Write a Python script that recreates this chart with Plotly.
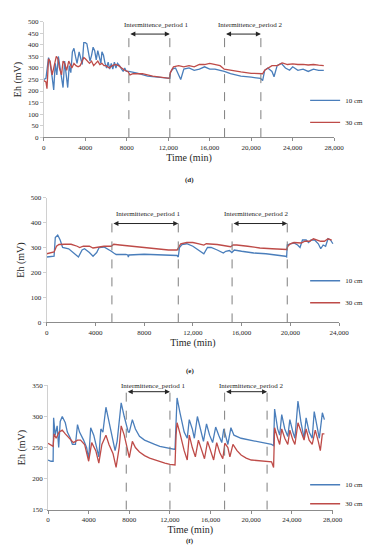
import plotly.graph_objects as go

# ---------------- data ----------------
# panel (d)
d_t10 = [0,200,450,600,800,950,1100,1250,1400,1550,1700,1850,2000,2150,2300,2450,2600,2750,2900,3050,3200,3400,3550,3700,3850,4000,4150,4300,4450,4600,4750,4900,5050,5200,5350,5500,5600,5750,5900,6050,6200,6350,6500,6650,6800,6950,7100,7300,7500,7650,7800,7950,8200,9000,10000,11000,12000,12150,12200,12400,12700,13000,13200,13500,14000,14500,15000,15500,16000,16500,17000,17400,18000,19000,20000,20900,21100,21300,21600,22000,22200,22500,22900,23300,23700,24000,24500,25000,25500,26000,26500,27000]
d_v10 = [250,255,345,320,260,205,320,270,350,300,250,215,330,280,215,310,280,370,385,350,320,370,340,315,410,410,405,370,330,355,390,375,335,375,350,320,370,355,320,300,325,295,320,295,325,300,320,310,295,285,300,285,285,278,265,260,255,255,280,295,300,270,250,295,300,290,295,305,295,295,290,285,275,265,260,255,245,290,300,285,262,310,320,300,290,305,290,295,285,295,290,290]
d_t30 = [0,200,300,450,600,800,1000,1200,1350,1500,1700,1850,2000,2200,2400,2550,2700,2900,3100,3300,3500,3700,3850,4000,4200,4400,4600,4800,5000,5200,5400,5600,5800,6000,6300,6600,6900,7200,7500,7800,8100,8300,8600,9500,10500,11500,12100,12200,12500,13000,13500,14000,14500,15000,15500,16000,16500,17000,17400,18000,19000,20000,20900,21100,21300,21600,22000,22500,23000,23500,24000,24500,25000,25500,26000,26500,27000]
d_v30 = [245,240,210,340,330,270,310,350,340,300,270,330,320,290,330,310,300,320,310,305,310,330,345,340,330,320,330,310,320,330,315,320,310,310,300,310,315,310,300,290,285,270,275,275,265,258,255,280,305,310,305,310,305,315,315,320,315,310,295,290,283,277,275,275,290,300,310,310,322,315,318,315,316,313,315,312,310]
d_periods = [8200, 12150, 17430, 20930]

# panel (e)
e_t10 = [0,500,600,700,900,1100,1300,1800,2300,2600,2900,3100,3500,3800,4100,4300,4700,5000,5300,5500,5700,6500,6650,6700,6750,8000,9000,10000,10700,10800,10900,11100,11500,12000,12500,12900,13200,13500,14000,14500,14700,15000,15200,15400,16000,17000,18000,19000,19600,19700,19750,20000,20300,20600,20800,21000,21300,21500,21700,22000,22300,22500,22700,22900,23100,23300,23500]
e_v10 = [262,262,265,340,350,330,300,295,275,262,290,295,280,265,280,300,302,295,285,278,272,272,270,262,270,273,272,270,268,262,300,312,315,305,290,275,300,300,290,278,285,288,280,290,285,278,275,270,265,262,310,315,318,310,300,330,330,320,330,330,315,295,310,305,335,330,315]
e_t30 = [0,300,600,800,1000,1500,2000,2500,2700,3000,3500,3800,4300,4700,5300,5500,6000,7000,8000,9000,10000,10700,10800,11000,11500,12000,12500,12900,13100,13500,14000,14500,14800,15100,15300,15600,16500,17500,18500,19700,19800,20000,20300,20600,20900,21200,21600,21900,22200,22500,22800,23100,23400]
e_v30 = [275,278,282,305,312,313,313,305,300,305,305,298,302,305,305,313,310,305,300,295,290,290,300,315,320,320,315,310,315,315,312,308,305,303,310,310,305,298,295,292,305,315,320,320,318,325,325,335,330,325,325,335,330]
e_periods = [5350, 10800, 15220, 19750]

# panel (f)
f_t10 = [0,300,500,550,700,900,1050,1200,1400,1700,1900,2200,2400,2700,2900,3100,3500,3800,4000,4200,4500,4800,5000,5200,5400,5700,6000,6300,6600,6800,7200,7500,7700,7900,8000,8300,8600,9000,9500,10000,10500,11000,11500,12000,12500,12600,12700,13000,13400,13700,13900,14200,14400,14700,15000,15300,15600,15900,16200,16500,16800,17100,17300,17500,17700,18000,18300,19000,20000,21000,21500,22000,22200,22300,22600,22800,23000,23300,23600,23800,24100,24300,24600,24900,25200,25400,25700,26000,26200,26500,26700,27000,27200]
f_v10 = [230,228,228,298,270,285,250,292,300,290,275,265,255,255,287,275,262,250,232,282,270,250,235,280,275,315,290,270,245,260,322,300,285,275,275,295,280,268,262,258,255,252,250,248,247,290,330,305,275,265,295,280,265,300,280,260,288,270,258,283,270,258,280,265,255,282,270,265,262,258,257,255,253,312,280,270,303,280,268,295,275,265,325,290,265,298,275,265,308,280,265,306,295]
f_t30 = [0,500,600,800,1100,1400,1700,2100,2500,2900,3200,3600,4000,4300,4700,5000,5300,5700,6000,6400,6700,7000,7200,7500,7800,8000,8300,8600,9000,9500,10000,10500,11000,11500,12000,12500,12600,12700,13000,13400,13700,13900,14200,14500,14800,15100,15400,15700,16000,16300,16600,16900,17200,17400,17700,17900,18200,18600,19000,19500,20000,21000,22000,22200,22300,22600,22800,23000,23300,23600,23800,24100,24300,24600,24900,25200,25400,25700,26000,26300,26600,26800,27000,27200]
f_v30 = [257,252,272,265,275,278,272,265,258,262,262,255,228,258,245,225,255,270,255,240,218,250,285,270,248,234,260,250,243,237,233,230,227,225,223,222,270,290,272,245,230,270,250,235,262,245,232,260,245,230,258,242,232,257,250,235,255,245,238,233,230,228,227,218,282,265,255,280,265,255,278,262,255,290,275,262,280,262,255,278,260,245,272,272]
f_periods = [7700, 12000, 17380, 21560]

x_tickvals = [0, 4000, 8000, 12000, 16000, 20000, 24000, 28000]
x_ticktext = ["0", "4000", "8000", "12,000", "16,000", "20,000", "24,000", "28,000"]
series_names = ["10 cm", "30 cm"]
period_labels = ["Intermittence_period 1", "Intermittence_period 2"]
panel_labels = ["(d)", "(e)", "(f)"]

# ---------------- style ----------------
W, H = 371, 550
BLUE = "#4A7EBB"
RED = "#BE4B48"
SERIF = "Liberation Serif"
TXT = "#262626"
AX = "#8C8C8C"

def px(xp):
    return xp / W

def py(yp):
    return 1 - yp / H

panels = [
    dict(t10=d_t10, v10=d_v10, t30=d_t30, v30=d_v30, periods=d_periods,
         xdom=(35, 335), ydom=(127, 10), xr=28000, yr=(0, 500), dtick=50,
         ntick=8, vtop=455, varrow=447, vtext=488, text_x=[10800, 19900],
         leg_top=75, leg_gap=3),
    dict(t10=e_t10, v10=e_v10, t30=e_t30, v30=e_v30, periods=e_periods,
         xdom=(38, 340), ydom=(315, 188.3), xr=24000, yr=(0, 500), dtick=100,
         ntick=7, vtop=400, varrow=396, vtext=433, text_x=[8350, 17200],
         leg_top=258, leg_gap=3),
    dict(t10=f_t10, v10=f_v10, t30=f_t30, v30=f_v30, periods=f_periods,
         xdom=(39.3, 333.3), ydom=(505, 379), xr=28000, yr=(150, 350), dtick=50,
         ntick=8, vtop=341, varrow=340, vtext=349, text_x=[10350, 19950],
         leg_top=465, leg_gap=0),
]
label_y = [164, 364, 542.5]

fig = go.Figure()
layout = dict(
    width=W, height=H, margin=dict(l=0, r=0, t=0, b=0),
    paper_bgcolor="white", plot_bgcolor="white",
    font=dict(family=SERIF, size=7, color=TXT),
    showlegend=True,
)
shapes = []
annotations = []

for i, p in enumerate(panels):
    n = "" if i == 0 else str(i + 1)
    xa, ya = "x" + n, "y" + n
    leg = "legend" + n
    fig.add_trace(go.Scatter(x=p["t10"], y=p["v10"], mode="lines", name=series_names[0],
                             line=dict(color=BLUE, width=1.3), xaxis=xa, yaxis=ya,
                             legend=leg, legendgroup=f"a{i}"))
    fig.add_trace(go.Scatter(x=p["t30"], y=p["v30"], mode="lines", name=series_names[1],
                             line=dict(color=RED, width=1.3), xaxis=xa, yaxis=ya,
                             legend=leg, legendgroup=f"b{i}"))
    layout["xaxis" + n] = dict(
        domain=[px(p["xdom"][0]), px(p["xdom"][1])], anchor=ya,
        range=[0, p["xr"]], tickvals=x_tickvals[:p["ntick"]], ticktext=x_ticktext[:p["ntick"]],
        showgrid=False, zeroline=False, showline=True, linecolor=AX, linewidth=1,
        ticks="outside", ticklen=3, tickcolor=AX,
        tickfont=dict(family=SERIF, size=7, color=TXT),
        title=dict(text="Time (min)", font=dict(family=SERIF, size=10, color=TXT), standoff=2),
    )
    layout["yaxis" + n] = dict(
        domain=[py(p["ydom"][0]), py(p["ydom"][1])], anchor=xa,
        range=list(p["yr"]), dtick=p["dtick"], tick0=0,
        showgrid=False, zeroline=False, showline=True, linecolor="#D0D0D0", linewidth=1,
        ticks="outside", ticklen=3, tickcolor="#D0D0D0",
        tickfont=dict(family=SERIF, size=7, color=TXT),
        title=dict(text="Eh (mV)", font=dict(family=SERIF, size=10, color=TXT), standoff=4),
    )
    layout[leg] = dict(
        x=px(305), xanchor="left", y=py(p["leg_top"]), yanchor="top",
        bgcolor="rgba(0,0,0,0)", font=dict(family=SERIF, size=7, color=TXT),
        tracegroupgap=p["leg_gap"], traceorder="grouped",
    )
    for k in range(4):
        shapes.append(dict(type="line", xref=xa, yref=ya,
                           x0=p["periods"][k], x1=p["periods"][k],
                           y0=p["yr"][0], y1=p["vtop"],
                           line=dict(color="#7F7F7F", width=1, dash="dash")))
    for k in range(2):
        x0, x1 = p["periods"][2 * k], p["periods"][2 * k + 1]
        annotations.append(dict(xref=xa, yref=ya, x=x1, y=p["varrow"], ax=x0, ay=p["varrow"],
                                axref=xa, ayref=ya, text="", showarrow=True,
                                arrowhead=2, startarrowhead=2, arrowside="end+start",
                                arrowsize=1, startarrowsize=1, arrowwidth=1, arrowcolor="#262626"))
        annotations.append(dict(xref=xa, yref=ya, x=p["text_x"][k], y=p["vtext"],
                                text=period_labels[k], showarrow=False,
                                font=dict(family=SERIF, size=7, color=TXT)))
    annotations.append(dict(xref="paper", yref="paper", x=px(186), y=py(label_y[i]),
                            text="<b>" + panel_labels[i] + "</b>", showarrow=False,
                            font=dict(family=SERIF, size=7, color=TXT)))

layout["shapes"] = shapes
layout["annotations"] = annotations
fig.update_layout(**layout)
fig.write_html("out.html")
